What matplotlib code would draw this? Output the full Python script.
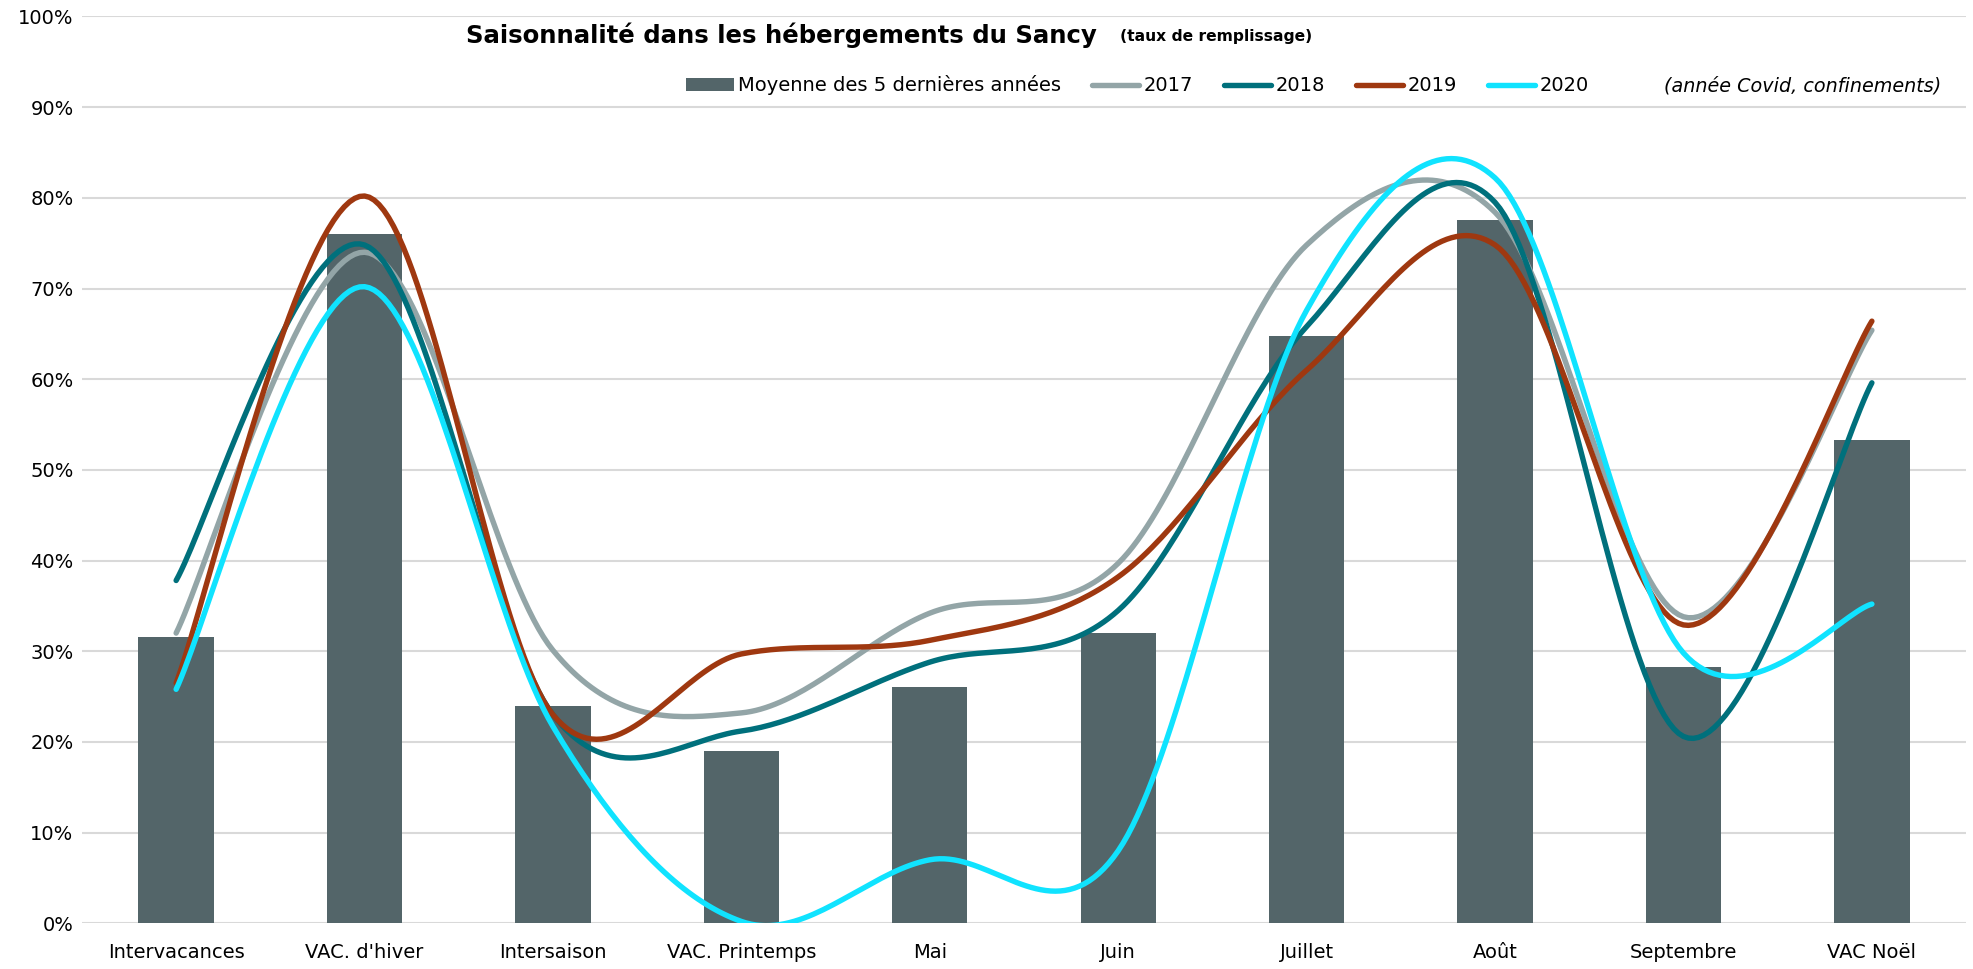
import numpy as np
import matplotlib
matplotlib.use("Agg")
import matplotlib.pyplot as plt
from matplotlib.ticker import FuncFormatter

# Saisonnalite - taux de remplissage (%)
categories = ["Intervacances", "VAC. d'hiver", "Intersaison", "VAC. Printemps", "Mai",
              "Juin", "Juillet", "Août", "Septembre", "VAC Noël"]
moyenne_5ans = [31.6, 76.0, 24.0, 19.0, 26.1, 32.0, 64.8, 77.6, 28.3, 53.3]
taux_2017 = [32.0, 74.0, 30.1, 23.2, 34.2, 39.7, 74.8, 78.4, 33.8, 65.4]
taux_2018 = [37.8, 74.8, 23.0, 21.2, 28.8, 34.5, 65.8, 79.5, 20.6, 59.6]
taux_2019 = [26.5, 80.2, 23.0, 29.7, 31.2, 38.2, 61.0, 74.8, 32.9, 66.4]
taux_2020 = [25.8, 70.2, 21.7, 0.2, 7.0, 8.0, 67.6, 82.2, 29.8, 35.2]

BAR_COLOR = "#536569"
LINE_COLORS = {"2017": "#93A5A7", "2018": "#00707C", "2019": "#9F3810", "2020": "#10E3FF"}
FONT = "DejaVu Sans"


def smooth(x, y, steps=40):
    """ Excel-like smoothed line (bezier through every point) """
    x = np.asarray(x, dtype=float)
    y = np.asarray(y, dtype=float)
    n = len(x)
    xs, ys = [], []
    t = np.linspace(0, 1, steps)
    for i in range(n - 1):
        i0 = max(i - 1, 0)
        i3 = min(i + 2, n - 1)
        p0 = np.array([x[i0], y[i0]])
        p1 = np.array([x[i], y[i]])
        p2 = np.array([x[i + 1], y[i + 1]])
        p3 = np.array([x[i3], y[i3]])
        c1 = p1 + (p2 - p0) / 6.0
        c2 = p2 - (p3 - p1) / 6.0
        pts = (((1 - t) ** 3)[:, None] * p1 + (3 * (1 - t) ** 2 * t)[:, None] * c1
               + (3 * (1 - t) * t ** 2)[:, None] * c2 + (t ** 3)[:, None] * p2)
        if i > 0:
            pts = pts[1:]
        xs.append(pts[:, 0])
        ys.append(pts[:, 1])
    return np.concatenate(xs), np.concatenate(ys)


fig = plt.figure(figsize=(19.74, 9.69), dpi=100)
ax = fig.add_axes([0.0415, 0.0472, 0.9545, 0.9358])

x = np.arange(len(categories))
bars = ax.bar(x, moyenne_5ans, width=0.4, color=BAR_COLOR, zorder=2,
              label="Moyenne des 5 dernières années")

handles = [bars]
for name, values in [("2017", taux_2017), ("2018", taux_2018),
                     ("2019", taux_2019), ("2020", taux_2020)]:
    sx, sy = smooth(x, values)
    line, = ax.plot(sx, sy, color=LINE_COLORS[name], lw=3.9, solid_capstyle="round",
                    zorder=3, label=name)
    handles.append(line)

ax.set_xlim(-0.5, len(categories) - 0.5)
ax.set_ylim(0, 100)
ax.set_yticks(np.arange(0, 101, 10))
ax.yaxis.set_major_formatter(FuncFormatter(lambda v, p: "%d%%" % v))
ax.set_xticks(x)
ax.set_xticklabels(categories)
ax.grid(axis="y", color="#D9D9D9", lw=1.5, zorder=0)
ax.set_axisbelow(True)
for s in ["top", "right", "left", "bottom"]:
    ax.spines[s].set_visible(False)
ax.tick_params(length=0, labelsize=14, colors="black")
ax.tick_params(axis="x", pad=14)
ax.tick_params(axis="y", pad=6)
for lab in ax.get_xticklabels() + ax.get_yticklabels():
    lab.set_family(FONT)

# title
fig.text(0.236, 0.964, "Saisonnalité dans les hébergements du Sancy", fontsize=17.6,
         fontweight="bold", family=FONT, va="center", ha="left")
fig.text(0.5675, 0.962, "(taux de remplissage)", fontsize=11.2, fontweight="semibold",
         family=FONT, va="center", ha="left")

leg = ax.legend(handles=handles, labels=[h.get_label() for h in handles],
                loc="center left", bbox_to_anchor=(0.3206, 0.924), ncol=5, frameon=False,
                prop={"family": FONT, "size": 14}, handlelength=2.45, handletextpad=0.2,
                columnspacing=1.6, borderaxespad=0, borderpad=0)
fig.text(0.9835, 0.911, "(année Covid, confinements)", fontsize=13.8, style="italic",
         family=FONT, va="center", ha="right")

fig.savefig("out.png", dpi=100)
